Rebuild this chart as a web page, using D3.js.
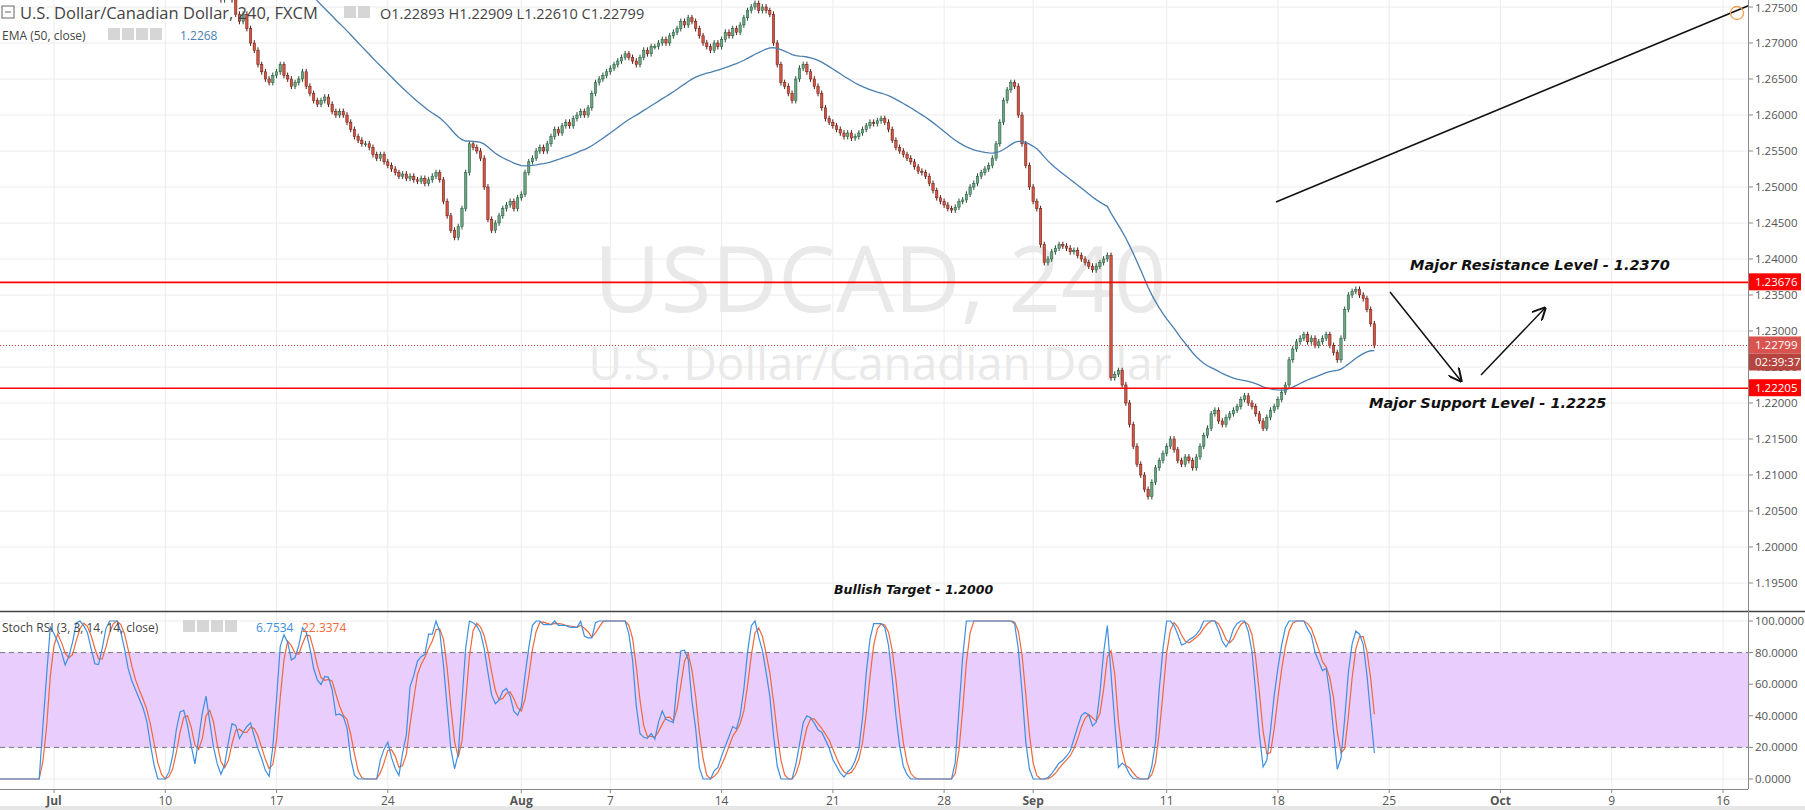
<!DOCTYPE html>
<html>
<head>
<meta charset="utf-8">
<script src="https://cdnjs.cloudflare.com/ajax/libs/d3/7.8.5/d3.min.js"></script>
<style>
  body { margin: 0; background: #fff; font-family: "Open Sans", Arial, sans-serif; }
  svg { display: block; }
</style>
</head>
<body>
<svg id="chart" width="1805" height="810"></svg>
<script>
// 4H closes in pips above 1.2000, six bars per trading day, from Wed Jun 21 (day -8)
var FIRST_DAY = -8;
var closesByDay = [
  [1280,1290,1285,1275,1280,1290], [1295,1285,1280,1270,1265,1260], [1255,1250,1245,1240,1245,1240],
  [1235,1230,1240,1250,1240,1235], [1230,1210,1180,1150,1120,1100],
  [1080,1070,1060,1055,1045,1040], [1035,1010,1000,990,975,970], [965,955,945,975,970,965],
  [960,950,940,925,935,940], [945,950,940,935,930,925], [930,945,960,975,980,985],
  [970,960,955,950,945,940], [935,930,920,900,890,885],
  [880,885,890,895,890,880], [870,860,855,865,860,850], [845,840,830,760,770,775],
  [760,740,730,740,720,700], [690,670,660,650,645,655],
  [660,670,655,650,640,645], [650,660,640,630,620,615], [620,625,615,605,600,605],
  [600,590,580,570,565,560], [560,555,545,540,545,535],
  [530,525,520,515,518,512], [515,510,508,512,505,510], [515,520,510,480,460,440],
  [430,445,470,520,560,555], [550,540,500,455,440,450],
  [460,470,475,480,470,485], [490,520,535,540,550,555], [550,560,570,580,575,585],
  [590,585,595,600,605,600], [610,630,645,650,655,660],
  [665,670,675,680,685,680], [675,670,680,690,685,695], [695,700,705,700,710,715],
  [720,730,725,735,730,720], [710,700,695,690,700,695],
  [705,715,710,720,715,725], [735,745,750,755,745,750], [745,740,700,670,645,640],
  [630,620,650,665,670,660], [650,640,630,610,595,590],
  [585,580,575,570,575,568], [570,575,580,585,590,588], [592,595,590,580,565,555],
  [550,545,540,535,528,522], [520,515,505,495,485,480],
  [475,470,468,472,480,482], [490,500,505,515,520,525], [530,540,560,590,620,635],
  [645,640,600,560,530,500], [480,470,420,395,400,410],
  [415,420,418,415,410,412], [405,400,395,390,385,390], [395,400,405,235,240,245],
  [225,200,170,140,115,100], [80,70,90,110,120,130],
  [140,150,135,120,115,125], [120,110,125,140,155,165], [185,190,175,170,180,185],
  [190,195,205,210,200,195], [185,175,165,180,190,195],
  [205,215,225,260,275,285], [290,295,285,290,280,285], [290,295,280,270,260,290],
  [330,350,355,358,350,345], [330,310,279.9]
];
var priceTicks = [1.195,1.2,1.205,1.21,1.215,1.22,1.225,1.23,1.235,1.24,1.245,1.25,1.255,1.26,1.265,1.27,1.275];
var stochTicks = [0,20,40,60,80,100];
var dayTicks = [
  {d: 0, label: "Jul", month: true}, {d: 5, label: "10"}, {d: 10, label: "17"}, {d: 15, label: "24"},
  {d: 21, label: "Aug", month: true}, {d: 25, label: "7"}, {d: 30, label: "14"}, {d: 35, label: "21"},
  {d: 40, label: "28"}, {d: 44, label: "Sep", month: true}, {d: 50, label: "11"}, {d: 55, label: "18"},
  {d: 60, label: "25"}, {d: 65, label: "Oct", month: true}, {d: 70, label: "9"}, {d: 75, label: "16"}
];
var resistance = 1.23676, support = 1.22205, lastPrice = 1.22799;

var W = 1748, MAIN_H = 611, ST_TOP = 612, ST_BOT = 789;
var svg = d3.select("#chart");
var x = d3.scaleLinear().domain([0, 75]).range([54, 1723]);
var y = d3.scaleLinear().domain([1.195, 1.275]).range([583, 7]);
var ys = d3.scaleLinear().domain([0, 100]).range([779, 621]);

// flatten bars
var bars = [];
closesByDay.forEach(function(day, di) {
  day.forEach(function(p, j) {
    bars.push({ t: FIRST_DAY + di + j / 6, c: 1.2 + p / 10000 });
  });
});
bars.forEach(function(b, i) {
  b.o = i ? bars[i - 1].c : b.c + 0.0005;
  b.h = Math.max(b.o, b.c) + 0.0004;
  b.l = Math.min(b.o, b.c) - 0.0004;
});

// EMA 50
var k = 2 / 51, ema = [];
bars.forEach(function(b, i) { ema.push(i ? b.c * k + ema[i - 1] * (1 - k) : b.c); });

// Stoch RSI (3, 3, 14, 14)
var rsi = [], ag = 0, al = 0;
bars.forEach(function(b, i) {
  if (i === 0) { rsi.push(null); return; }
  var ch = b.c - bars[i - 1].c, g = Math.max(ch, 0), l = Math.max(-ch, 0);
  if (i <= 14) { ag += g / 14; al += l / 14; } else { ag = (ag * 13 + g) / 14; al = (al * 13 + l) / 14; }
  rsi.push(i < 14 ? null : (al === 0 ? 100 : 100 - 100 / (1 + ag / al)));
});
var stoch = rsi.map(function(r, i) {
  if (i < 27) return null;
  var w = rsi.slice(i - 13, i + 1), mn = d3.min(w), mx = d3.max(w);
  return mx === mn ? 0 : (r - mn) / (mx - mn) * 100;
});
function sma(a, n) {
  return a.map(function(v, i) {
    if (i < n - 1) return null;
    var w = a.slice(i - n + 1, i + 1);
    return w.some(function(q) { return q === null; }) ? null : d3.mean(w);
  });
}
var kLine = sma(stoch, 3), dLine = sma(kLine, 3);

// clips
var defs = svg.append("defs");
defs.append("clipPath").attr("id", "cm").append("rect").attr("width", W).attr("height", MAIN_H);
defs.append("clipPath").attr("id", "cs").append("rect").attr("y", ST_TOP).attr("width", W).attr("height", ST_BOT - ST_TOP);

// grid
var grid = svg.append("g").attr("stroke", "#ececec");
dayTicks.forEach(function(t) {
  grid.append("line").attr("x1", x(t.d)).attr("x2", x(t.d)).attr("y1", 0).attr("y2", ST_BOT);
});
priceTicks.forEach(function(p) {
  grid.append("line").attr("x1", 0).attr("x2", W).attr("y1", y(p)).attr("y2", y(p));
});
stochTicks.forEach(function(p) {
  grid.append("line").attr("x1", 0).attr("x2", W).attr("y1", ys(p)).attr("y2", ys(p));
});

// watermark
svg.append("text").attr("x", 880).attr("y", 312).attr("text-anchor", "middle")
  .attr("font-size", 92).attr("fill", "#e9e9e9").text("USDCAD, 240");
svg.append("text").attr("x", 880).attr("y", 380).attr("text-anchor", "middle")
  .attr("font-size", 46).attr("fill", "#e9e9e9").text("U.S. Dollar/Canadian Dollar");

// candles
var main = svg.append("g").attr("clip-path", "url(#cm)");
var bw = 2.4;
var cg = main.selectAll("g.c").data(bars).enter().append("g");
cg.append("line")
  .attr("x1", function(b) { return x(b.t); }).attr("x2", function(b) { return x(b.t); })
  .attr("y1", function(b) { return y(b.h); }).attr("y2", function(b) { return y(b.l); })
  .attr("stroke", function(b) { return b.c >= b.o ? "#225437" : "#5b1a13"; });
cg.append("rect")
  .attr("x", function(b) { return x(b.t) - bw / 2; }).attr("width", bw)
  .attr("y", function(b) { return y(Math.max(b.o, b.c)); })
  .attr("height", function(b) { return Math.max(1, Math.abs(y(b.o) - y(b.c))); })
  .attr("fill", function(b) { return b.c >= b.o ? "#6ba583" : "#d75442"; })
  .attr("stroke", function(b) { return b.c >= b.o ? "#225437" : "#5b1a13"; }).attr("stroke-width", 0.5);

main.append("path").datum(bars)
  .attr("d", d3.line().x(function(b) { return x(b.t); }).y(function(b, i) { return y(ema[i]); }))
  .attr("fill", "none").attr("stroke", "#4a7fb0").attr("stroke-width", 1.3);

// levels
[resistance, support].forEach(function(p) {
  main.append("line").attr("x1", 0).attr("x2", W).attr("y1", y(p)).attr("y2", y(p))
    .attr("stroke", "#ff0000").attr("stroke-width", 1.6);
});
main.append("line").attr("x1", 0).attr("x2", W).attr("y1", y(lastPrice)).attr("y2", y(lastPrice))
  .attr("stroke", "#c0392b").attr("stroke-dasharray", "1,2");

// drawings
var marker = defs.append("marker").attr("id", "ah").attr("viewBox", "0 0 10 10")
  .attr("refX", 9).attr("refY", 5).attr("markerWidth", 9).attr("markerHeight", 9).attr("orient", "auto");
marker.append("path").attr("d", "M0,0 L10,5 L0,10").attr("fill", "none").attr("stroke", "#111").attr("stroke-width", 1.5);
main.append("line").attr("x1", 1276).attr("y1", 202).attr("x2", 1750).attr("y2", 5)
  .attr("stroke", "#111").attr("stroke-width", 1.6);
main.append("circle").attr("cx", 1737).attr("cy", 13).attr("r", 6.5).attr("fill", "none").attr("stroke", "#f0a050").attr("stroke-width", 1.3);
main.append("line").attr("x1", 1390).attr("y1", 292).attr("x2", 1461).attr("y2", 381)
  .attr("stroke", "#111").attr("stroke-width", 1.5).attr("marker-end", "url(#ah)");
main.append("line").attr("x1", 1481).attr("y1", 375).attr("x2", 1545).attr("y2", 308)
  .attr("stroke", "#111").attr("stroke-width", 1.5).attr("marker-end", "url(#ah)");

var note = svg.append("g").attr("font-family", "Verdana, 'DejaVu Sans', sans-serif")
  .attr("font-weight", "bold").attr("font-style", "italic").attr("fill", "#111");
note.append("text").attr("x", 1410).attr("y", 270).attr("font-size", 14.5).text("Major Resistance Level - 1.2370");
note.append("text").attr("x", 1369).attr("y", 408).attr("font-size", 14.5).text("Major Support Level - 1.2225");
note.append("text").attr("x", 834).attr("y", 594).attr("font-size", 12.5).text("Bullish Target - 1.2000");

// stoch panel
var st = svg.append("g").attr("clip-path", "url(#cs)");
st.append("rect").attr("x", 0).attr("width", W).attr("y", ys(80)).attr("height", ys(20) - ys(80)).attr("fill", "#e9cdfd");
[20, 80].forEach(function(v) {
  st.append("line").attr("x1", 0).attr("x2", W).attr("y1", ys(v)).attr("y2", ys(v))
    .attr("stroke", "#777").attr("stroke-dasharray", "5,4");
});
function sline(arr, col) {
  st.append("path").datum(bars)
    .attr("d", d3.line().defined(function(b, i) { return arr[i] !== null; })
      .x(function(b) { return x(b.t); }).y(function(b, i) { return ys(arr[i]); }))
    .attr("fill", "none").attr("stroke", col).attr("stroke-width", 1.2);
}
sline(dLine, "#f0683a");
sline(kLine, "#3d8fe0");

// panel borders
svg.append("line").attr("x1", 0).attr("x2", 1805).attr("y1", 611.5).attr("y2", 611.5).attr("stroke", "#444").attr("stroke-width", 1.3);
svg.append("line").attr("x1", W + 0.5).attr("x2", W + 0.5).attr("y1", 0).attr("y2", ST_BOT).attr("stroke", "#888");
svg.append("line").attr("x1", 0).attr("x2", W).attr("y1", ST_BOT + 0.5).attr("y2", ST_BOT + 0.5).attr("stroke", "#888");
svg.append("rect").attr("x", 0).attr("y", 806).attr("width", 1805).attr("height", 4).attr("fill", "#e6e6e6");

// right axes
var ax = svg.append("g").attr("font-size", 11.5).attr("fill", "#555");
priceTicks.forEach(function(p) {
  ax.append("line").attr("x1", W).attr("x2", W + 5).attr("y1", y(p)).attr("y2", y(p)).attr("stroke", "#888");
  ax.append("text").attr("x", 1755).attr("y", Math.max(y(p) + 4, 12)).text(d3.format(".5f")(p));
});
stochTicks.forEach(function(p) {
  ax.append("line").attr("x1", W).attr("x2", W + 5).attr("y1", ys(p)).attr("y2", ys(p)).attr("stroke", "#888");
  ax.append("text").attr("x", 1755).attr("y", ys(p) + 4).text(d3.format(".4f")(p));
});
function tag(p, txt, col, dy) {
  ax.append("rect").attr("x", W + 1).attr("y", y(p) - 9 + (dy || 0)).attr("width", 52).attr("height", 17).attr("fill", col);
  ax.append("text").attr("x", 1755).attr("y", y(p) + 4 + (dy || 0)).attr("fill", "#fff").text(txt);
}
tag(resistance, "1.23676", "#ff0000");
tag(support, "1.22205", "#ff0000");
tag(lastPrice, "1.22799", "#d9534f");
tag(lastPrice, "02:39:37", "#b6453f", 17);

// date axis
var dx = svg.append("g").attr("font-size", 12).attr("fill", "#555").attr("text-anchor", "middle");
dayTicks.forEach(function(t) {
  dx.append("line").attr("x1", x(t.d)).attr("x2", x(t.d)).attr("y1", ST_BOT).attr("y2", ST_BOT + 4).attr("stroke", "#888");
  dx.append("text").attr("x", x(t.d)).attr("y", 805).attr("font-weight", t.month ? "bold" : "normal").text(t.label);
});

// legends
var lg = svg.append("g").attr("fill", "#444");
lg.append("rect").attr("x", 2).attr("y", 6).attr("width", 12).attr("height", 12).attr("fill", "#fff").attr("stroke", "#666");
lg.append("line").attr("x1", 5).attr("x2", 11).attr("y1", 12).attr("y2", 12).attr("stroke", "#666");
lg.append("text").attr("x", 20).attr("y", 19).attr("font-size", 16.5).text("U.S. Dollar/Canadian Dollar, 240, FXCM");
lg.append("text").attr("x", 380).attr("y", 19).attr("font-size", 14.5).text("O1.22893  H1.22909  L1.22610  C1.22799");
lg.append("text").attr("x", 2).attr("y", 40).attr("font-size", 12).text("EMA (50, close)");
lg.append("text").attr("x", 180).attr("y", 40).attr("font-size", 12).attr("fill", "#4a7fb0").text("1.2268");
lg.append("text").attr("x", 2).attr("y", 632).attr("font-size", 12).text("Stoch RSI (3, 3, 14, 14, close)");
lg.append("text").attr("x", 256).attr("y", 632).attr("font-size", 12).attr("fill", "#3d8fe0").text("6.7534");
lg.append("text").attr("x", 302).attr("y", 632).attr("font-size", 12).attr("fill", "#f0683a").text("22.3374");
[[344, 6], [344 + 14, 6], [108, 28], [122, 28], [136, 28], [150, 28], [183, 620], [197, 620], [211, 620], [225, 620]].forEach(function(p) {
  lg.append("rect").attr("x", p[0]).attr("y", p[1]).attr("width", 12).attr("height", 12).attr("fill", "#d6d6d6");
});
</script>
</body>
</html>
